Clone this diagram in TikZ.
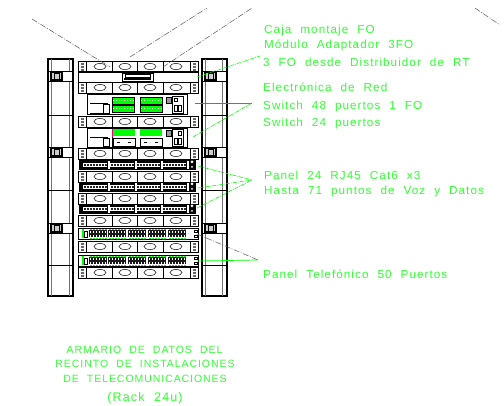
\documentclass[tikz,border=0pt]{standalone}
\usepackage{fontspec}
\setmainfont{Liberation Sans}[LetterSpace=9,WordSpace=2.1]
\tikzset{
	rackline/.style={black,line width=0.7pt},
	grayline/.style={black!55,line width=0.9pt},
	labeltext/.style={text=green!80!white,font=\fontsize{11.7}{14}\selectfont,inner sep=0pt,anchor=west},
	titletext/.style={text=green!80!white,font=\fontsize{10.5}{12}\selectfont,inner sep=0pt},
	greenleader/.style={green,line width=0.6pt,dash pattern=on 4pt off 1pt on 1pt off 1pt},
	grayleader/.style={black!65,line width=0.5pt,dash pattern=on 6pt off 1.5pt on 1pt off 1.5pt},
	% 1U blank panel, origin at its top left corner
	blankpanel/.pic={
		\draw[rackline] (0,0) rectangle (120,11);
		\foreach \xdiv in {8,34,59,85,112}
			\draw[rackline] (\xdiv,0) -- (\xdiv,11);
		\foreach \xoval in {22,47,72,98}
			\draw[black,line width=0.5pt] (\xoval,5.5) ellipse (6 and 3);
		\foreach \xear in {2.5,114.5}
			\foreach \year in {2,5,8}
				\fill[black!60] (\xear,\year) rectangle ++(3,1.7);
	},
	% patch panel RJ45
	patchpanel/.pic={
		\fill[black] (1,0) rectangle (118,10.5);
		\foreach \xgrp in {5,32,58,84}{
			\fill[white] (\xgrp,3) rectangle ++(24,4.5);
			\foreach \xport in {1,4,...,22}
				\fill[black!85] (\xgrp+\xport,4) rectangle ++(1.7,2.5);
			\fill[white] (\xgrp+25,1) rectangle ++(1.7,8.5);
		}
		\fill[white] (114,2) circle (1.5);
		\fill[white] (114,7) circle (1);
	},
	% telephone panel 50 ports
	telpanel/.pic={
		\draw[rackline] (0,0) rectangle (120,11.5);
		\fill[green] (4,1) rectangle (6,10.5);
		\draw[rackline] (6,3) rectangle (9,9);
		\foreach \xgrp in {11,30,50,70,90}{
			\fill[black!90] (\xgrp,2.5) rectangle ++(17.5,7);
			\foreach \xport in {1,4,...,16}{
				\fill[white] (\xgrp+\xport,3.5) rectangle ++(1.2,1.8);
				\fill[white] (\xgrp+\xport,6.8) rectangle ++(1.2,1.8);
				\fill[green] (\xgrp+\xport,1) rectangle ++(1.5,1.4);
				\fill[green] (\xgrp+\xport,9.6) rectangle ++(1.5,1.4);
			}
		}
		\draw[rackline] (116,2) rectangle ++(3,2);
		\draw[rackline] (116,7) rectangle ++(3,2);
	},
	% side column bracket
	sidebracket/.pic={
		\draw[black,line width=0.9pt,fill=white] (0,0) rectangle (24,10);
		\draw[black,line width=1.2pt,fill=black!20] (3,1.5) rectangle (14,9);
		\draw[rackline] (6,2.5) rectangle (11,8);
	},
}
\begin{document}
\begin{tikzpicture}[x=1pt,y=-1pt]
	\useasboundingbox (0,0) rectangle (504,406);

	% side columns
	\foreach \xcol/\xa/\xb in {48/51/69,202/205/222}{
		\draw[black,line width=1.2pt] (\xcol,59) rectangle ++(25,237);
		\draw[grayline] (\xa,59) -- (\xa,296);
		\draw[grayline] (\xb,59) -- (\xb,296);
		\foreach \yline in {115,190,265}
			\draw[rackline] (\xcol,\yline) -- ++(25,0);
		\foreach \ybr in {71,147,223}
			\pic at (\xcol,\ybr) {sidebracket};
	}

	% blank panels
	\foreach \ypanel in {61,82,116,148,171,193,215,241,267}
		\pic at (78,\ypanel) {blankpanel};
	\draw[rackline] (78,71) rectangle (198,82);

	% fibre box
	\draw[rackline,fill=white] (122,73) rectangle (153,81);
	\draw[black,line width=1.4pt] (124,79) -- (151,79);
	\draw[rackline] (125,74) rectangle (150,77);

	% switch 48 ports
	\draw[rackline,fill=white] (87,94) rectangle (187,114);
	\draw[rackline] (90,103) -- (108,103) (90,113) -- (103,113);
	\draw[rackline] (103,104) rectangle (109,113);
	\foreach \xgreen in {112,140}
		\foreach \ygreen in {97,105}{
			\draw[rackline,fill=green] (\xgreen,\ygreen) rectangle ++(22,7);
			\draw[white,line width=0.8pt,dotted] (\xgreen+1,\ygreen+3.5) -- ++(20,0);
		}
	\draw[rackline,fill=black!40] (166,97) rectangle (171,103);
	\draw[rackline] (172,96) rectangle (183,113);
	\draw[rackline] (174,98) rectangle ++(3,3);
	\draw[rackline] (178,105) rectangle ++(3,6) (174,105) rectangle ++(3,6);

	% switch 24 ports
	\draw[rackline,fill=white] (87,128) rectangle (187,147);
	\draw[rackline] (90,137) -- (108,137);
	\draw[rackline] (103,138) rectangle (109,146);
	\foreach \xgreen in {113,140}{
		\fill[green] (\xgreen,129.5) rectangle ++(22,7);
		\draw[rackline] (\xgreen,138) rectangle ++(22,8);
		\draw[rackline] (\xgreen+4,142) -- ++(3,0) (\xgreen+15,142) -- ++(3,0);
	}
	\draw[magenta,line width=0.9pt] (112,129) -- (112,137);
	\draw[rackline] (112,137) -- (112,147);
	\draw[rackline,fill=black!40] (166,130) rectangle (171,136);
	\draw[rackline] (172,129) rectangle (183,146);
	\draw[rackline] (174,138) rectangle ++(3,6) (178,138) rectangle ++(3,6);
	\draw[rackline] (178,131) rectangle ++(3,4);

	% patch panels and telephone panels
	\foreach \ypatch in {160,182,204}
		\pic at (78,\ypatch) {patchpanel};
	\foreach \ytel in {228,255}
		\pic at (78,\ytel) {telpanel};

	% labels
	\node[labeltext] (caja) at (264,30) {Caja montaje FO};
	\node[labeltext] (modulo) at (264,45) {Módulo Adaptador 3FO};
	\node[labeltext] (desde) at (263,62) {3 FO desde Distribuidor de RT};
	\node[labeltext] (electronica) at (263,87) {Electrónica de Red};
	\node[labeltext] (switcha) at (263,106) {Switch 48 puertos 1 FO};
	\node[labeltext] (switchb) at (263,123) {Switch 24 puertos};
	\node[labeltext] (panelrj) at (264,175) {Panel 24 RJ45 Cat6 x3};
	\node[labeltext] (hasta) at (264,191) {Hasta 71 puntos de Voz y Datos};
	\node[labeltext] (paneltel) at (263,274) {Panel Telefónico 50 Puertos};
	\node[titletext] (armario) at (144.5,350) {ARMARIO DE DATOS DEL};
	\node[titletext] (recinto) at (145,364) {RECINTO DE INSTALACIONES};
	\node[titletext] (teleco) at (145,379) {DE TELECOMUNICACIONES};
	\node[titletext,font=\fontsize{12.5}{14}\selectfont] (rack) at (145,398) {(Rack 24u)};

	% leader ends
	\coordinate (topa) at (32,19);
	\coordinate (topb) at (110,67);
	\coordinate (topc) at (130,57);
	\coordinate (topd) at (207,8);
	\coordinate (tope) at (163,67);
	\coordinate (topf) at (252,8);
	\coordinate (topg) at (475,8);
	\coordinate (toph) at (500,25);
	\coordinate (fibre) at (197,77);
	\coordinate (fibreend) at (260,56);
	\coordinate (swa) at (195,103);
	\coordinate (swb) at (193,137);
	\coordinate (swend) at (252,103);
	\coordinate (rjend) at (252,180);
	\coordinate (rja) at (198,166);
	\coordinate (rjb) at (198,188);
	\coordinate (rjc) at (197,208);
	\coordinate (tela) at (197,234);
	\coordinate (telb) at (197,261);
	\coordinate (telend) at (258,260);

	% leaders
	\draw[grayleader] (topa) -- (topb);
	\draw[grayleader] (topc) -- (topd);
	\draw[grayleader] (tope) -- (topf);
	\draw[grayleader] (topg) -- (toph);
	\draw[greenleader] (fibre) -- (fibreend);
	\draw[grayline] (swa) -- (swend);
	\draw[greenleader] (swb) -- (swend);
	\draw[greenleader] (rja) -- (rjend);
	\draw[greenleader] (rjb) -- (rjend);
	\draw[greenleader] (rjc) -- (rjend);
	\draw[grayleader] (tela) -- (telend);
	\draw[green,line width=0.7pt] (telb) -- (telend);
\end{tikzpicture}
\end{document}
